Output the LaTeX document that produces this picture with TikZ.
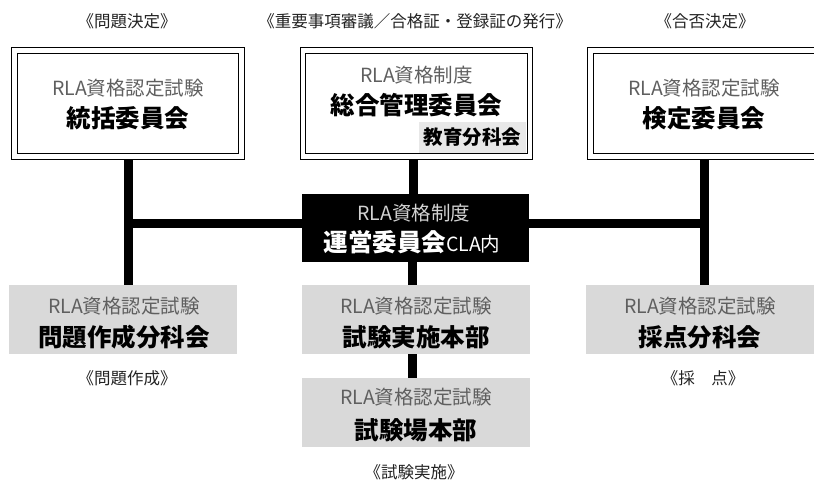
\documentclass[tikz,border=0pt]{standalone}
\usepackage{fontspec}
\setmainfont{Noto Sans CJK JP}
\usetikzlibrary{backgrounds}
\definecolor{boxgray}{RGB}{217,217,217}
\definecolor{subgray}{RGB}{232,232,232}
\definecolor{rlagray}{RGB}{95,95,95}
\definecolor{notegray}{RGB}{34,34,34}
\definecolor{unsub}{RGB}{210,210,210}
\begin{document}
\begin{tikzpicture}[x=1pt, y=-1pt,
	topbox/.style={rectangle, draw=black, line width=1.1pt, double=white, double distance=4.6pt, minimum width=227pt, minimum height=106pt, inner sep=0pt},
	lowbox/.style={rectangle, fill=boxgray, minimum width=228pt, minimum height=69pt, inner sep=0pt},
	darkbox/.style={rectangle, fill=black, minimum width=227pt, minimum height=68pt, inner sep=0pt},
	subline/.style={inner sep=0pt, text=rlagray, font=\fontsize{19.5}{22}\selectfont},
	mainline/.style={inner sep=0pt, text=black, font=\bfseries\fontsize{24.5}{28}\selectfont},
	note/.style={inner sep=0pt, text=notegray, font=\fontsize{16.5}{19}\selectfont},
	link/.style={line width=9pt}]
	\useasboundingbox (0,0) rectangle (814,482);
	\clip (0,0) rectangle (814,482);
	% upper row
	\node[topbox] (tougatsu) at (128,103.5) {};
	\node[subline] (tougatsu-sub) at (128,88) {RLA資格認定試験};
	\node[mainline] (tougatsu-name) at (128,118) {統括委員会};
	\node[topbox] (sougou) at (416.5,103.5) {};
	\node[subline] (sougou-sub) at (416.5,75) {RLA資格制度};
	\node[mainline] (sougou-name) at (416.5,105) {総合管理委員会};
	\node[fill=subgray, minimum width=107pt, minimum height=31pt, inner sep=0pt, font=\bfseries\fontsize{19.5}{22}\selectfont] (kyouiku) at (472.5,137.5) {教育分科会};
	\node[topbox] (kentei) at (704,103.5) {};
	\node[subline] (kentei-sub) at (704,88) {RLA資格認定試験};
	\node[mainline] (kentei-name) at (704,118) {検定委員会};
	% centre
	\node[darkbox] (unei) at (415.5,228) {};
	\node[subline, text=unsub] (unei-sub) at (414,213) {RLA資格制度};
	\node[mainline, text=white] (unei-name) at (412,242) {運営委員会{\mdseries\fontsize{19.5}{22}\selectfont CLA内}};
	% lower row
	\node[lowbox] (mondai) at (123,319.5) {};
	\node[subline] (mondai-sub) at (124,306) {RLA資格認定試験};
	\node[mainline] (mondai-name) at (124,337) {問題作成分科会};
	\node[lowbox] (jisshi) at (416,319.5) {};
	\node[subline] (jisshi-sub) at (416,306) {RLA資格認定試験};
	\node[mainline] (jisshi-name) at (416,337) {試験実施本部};
	\node[lowbox] (shikenjo) at (416,412.5) {};
	\node[subline] (shikenjo-sub) at (416,397) {RLA資格認定試験};
	\node[mainline] (shikenjo-name) at (416,430) {試験場本部};
	\node[lowbox] (saiten) at (700,319.5) {};
	\node[subline] (saiten-sub) at (700,306) {RLA資格認定試験};
	\node[mainline] (saiten-name) at (700,337) {採点分科会};
	% notes
	\node[note] (tougatsu-note) at (127,21) {《問題決定》};
	\node[note] (sougou-note) at (415,21) {《重要事項審議／合格証・登録証の発行》};
	\node[note] (kentei-note) at (705,21) {《合否決定》};
	\node[note] (mondai-note) at (127,378) {《問題作成》};
	\node[note] (saiten-note) at (703,378) {《採　点》};
	\node[note] (shikenjo-note) at (414,472) {《試験実施》};
	% connectors
	\coordinate (barleft) at (128,223);
	\coordinate (barright) at (704,223);
	\begin{scope}[on background layer]
	\draw[link] (tougatsu.south) -- (tougatsu.south |- mondai.north);
	\draw[link] (kentei.south) -- (kentei.south |- saiten.north);
	\draw[link] (barleft) -- (barright);
	\draw[link] ([xshift=-3.5pt]sougou.south) -- ([xshift=-3.5pt]sougou.south |- unei.north);
	\draw[link] ([xshift=-3pt]unei.south) -- ([xshift=-3pt]unei.south |- jisshi.north);
	\draw[link] ([xshift=-3.5pt]jisshi.south) -- ([xshift=-3.5pt]jisshi.south |- shikenjo.north);
	\end{scope}
\end{tikzpicture}
\end{document}
